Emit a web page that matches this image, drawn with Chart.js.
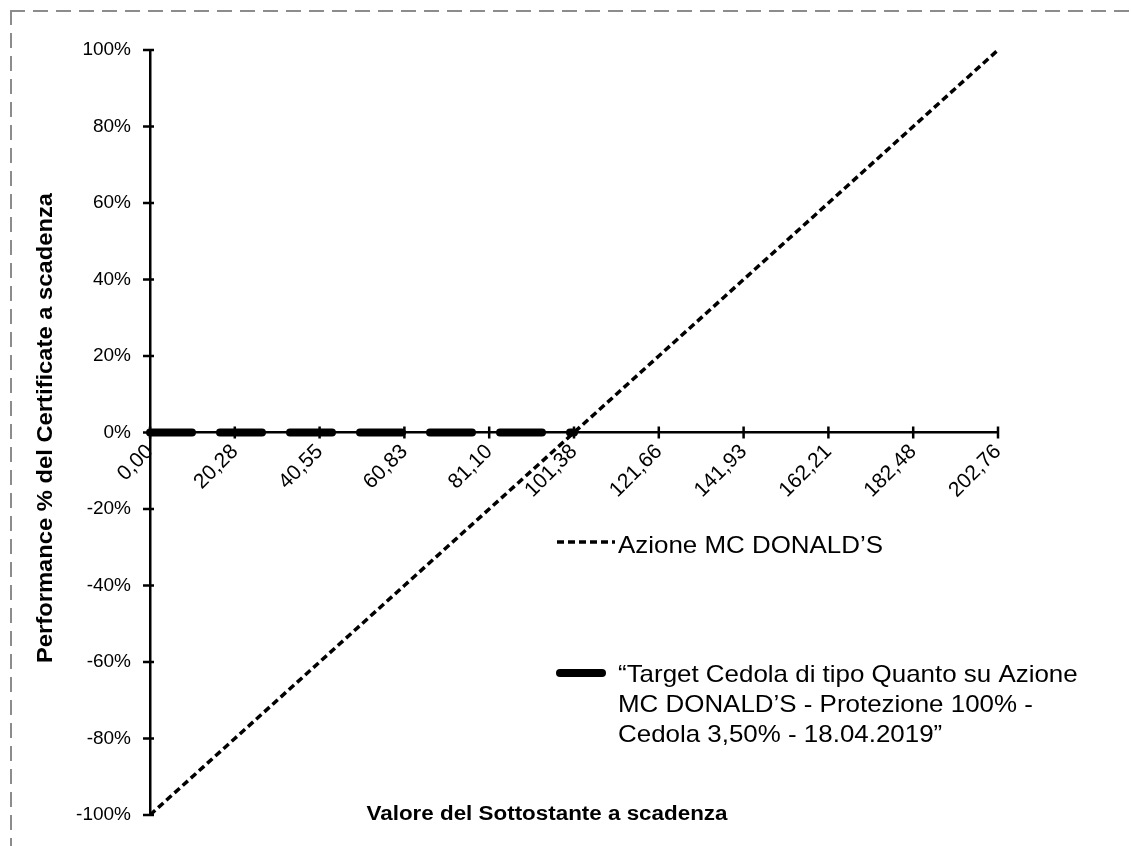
<!DOCTYPE html>
<html>
<head>
<meta charset="utf-8">
<script src="https://cdn.jsdelivr.net/npm/chart.js@4.4.1/dist/chart.umd.min.js"></script>
<style>
  html, body { margin: 0; padding: 0; background: #fff; overflow: hidden; }
  #wrap { position: relative; width: 1131px; height: 846px; }
  #frameTop { position: absolute; left: 10px; top: 10px; width: 1121px; height: 2px;
              background: repeating-linear-gradient(to right, #8c8c8c 0 15px, transparent 15px 23px); }
  #frameLeft { position: absolute; left: 10px; top: 10px; width: 2px; height: 836px;
               background: repeating-linear-gradient(to bottom, #8c8c8c 0 15px, transparent 15px 23px); }
  canvas { position: absolute; left: 0; top: 0; }
</style>
</head>
<body>
<div id="wrap">
  <div id="frameTop"></div>
  <div id="frameLeft"></div>
  <canvas id="chart" width="1131" height="846"></canvas>
</div>
<script>
// valori del sottostante (asse x)
const valori = ['0,00', '20,28', '40,55', '60,83', '81,10', '101,38', '121,66', '141,93', '162,21', '182,48', '202,76'];
// performance % azione
const azione = [-100, -80, -60, -40, -20, 0, 20, 40, 60, 80, 100];
// performance % certificate
const certificato = [0, 0, 0, 0, 0, 0, null, null, null, null, null];

const labelAzione = ['Azione MC DONALD\u2019S'];
const labelCertificato = [
    '\u201CTarget Cedola di tipo Quanto su Azione',
    'MC DONALD\u2019S - Protezione 100% -',
    'Cedola 3,50% - 18.04.2019\u201D'
];
const titoloX = 'Valore del Sottostante a scadenza';
const titoloY = 'Performance % del Certificate a scadenza';

const FONT = '"Liberation Sans", Arial, sans-serif';

// tick incrociati, titoli e legenda
const extras = {
    id: 'extras',
    afterDraw(chart) {
        const ctx = chart.ctx;
        const xs = chart.scales.x;
        const ys = chart.scales.y;
        const y0 = ys.getPixelForValue(0);

        ctx.save();
        ctx.strokeStyle = '#000';
        ctx.lineWidth = 2.5;
        ctx.beginPath();
        xs.ticks.forEach((t, i) => {
            const x = xs.getPixelForTick(i);
            ctx.moveTo(x, y0 - 6);
            ctx.lineTo(x, y0 + 6);
        });
        ys.ticks.forEach((t, i) => {
            const y = ys.getPixelForTick(i);
            ctx.moveTo(ys.right - 7, y);
            ctx.lineTo(ys.right + 4, y);
        });
        ctx.stroke();

        ctx.fillStyle = '#000';

        // titolo asse x
        ctx.save();
        ctx.font = 'bold 20px ' + FONT;
        ctx.textAlign = 'center';
        ctx.textBaseline = 'alphabetic';
        ctx.translate(547, 820);
        ctx.scale(1.12, 1);
        ctx.fillText(titoloX, 0, 0);
        ctx.restore();

        // titolo asse y
        ctx.save();
        ctx.font = 'bold 22px ' + FONT;
        ctx.textAlign = 'center';
        ctx.textBaseline = 'middle';
        ctx.translate(46, 428);
        ctx.rotate(-Math.PI / 2);
        ctx.scale(1.08, 1);
        ctx.fillText(titoloY, 0, 0);
        ctx.restore();

        // legenda
        const items = [
            { ds: chart.data.datasets[0], lines: labelAzione, x1: 557, x2: 615, y: 542, base: 553 },
            { ds: chart.data.datasets[1], lines: labelCertificato, x1: 560, x2: 602, y: 673, base: 682 }
        ];
        items.forEach(it => {
            ctx.save();
            ctx.strokeStyle = it.ds.borderColor;
            ctx.lineWidth = it.ds.borderWidth;
            ctx.lineCap = it.ds.borderCapStyle || 'butt';
            ctx.setLineDash(it.ds.borderDash || []);
            ctx.beginPath();
            ctx.moveTo(it.x1, it.y);
            ctx.lineTo(it.x2, it.y);
            ctx.stroke();
            ctx.restore();

            ctx.font = '24px ' + FONT;
            ctx.textAlign = 'left';
            ctx.textBaseline = 'alphabetic';
            it.lines.forEach((line, k) => {
                ctx.save();
                ctx.translate(618, it.base + k * 30);
                ctx.scale(1.08, 1);
                ctx.fillText(line, 0, 0);
                ctx.restore();
            });
        });
        ctx.restore();
    }
};

new Chart(document.getElementById('chart').getContext('2d'), {
    type: 'line',
    data: {
        labels: valori,
        datasets: [{
            label: labelAzione.join(' '),
            data: azione,
            borderColor: '#000',
            borderWidth: 3.5,
            borderDash: [7, 4],
            pointRadius: 0,
            fill: false
        }, {
            label: labelCertificato.join(' '),
            data: certificato,
            borderColor: '#000',
            borderWidth: 8,
            borderDash: [42, 28],
            borderCapStyle: 'round',
            pointRadius: 0,
            spanGaps: false,
            fill: false
        }]
    },
    options: {
        responsive: false,
        animation: false,
        layout: { padding: { top: 50, right: 133, bottom: 31, left: 0 } },
        plugins: {
            legend: { display: false },
            tooltip: { enabled: false }
        },
        scales: {
            x: {
                type: 'category',
                position: { y: 0 },
                offset: false,
                grid: { display: false, drawTicks: false },
                border: { display: true, color: '#000', width: 2.5 },
                ticks: {
                    autoSkip: false,
                    maxRotation: 45,
                    minRotation: 45,
                    padding: 7,
                    color: '#000',
                    font: { family: FONT, size: 21 }
                }
            },
            y: {
                min: -100,
                max: 100,
                grid: { display: false, drawTicks: false },
                border: { display: true, color: '#000', width: 2.5 },
                ticks: {
                    stepSize: 20,
                    padding: 19,
                    color: '#000',
                    font: { family: FONT, size: 19 },
                    callback: v => v + '%'
                },
                afterFit(scale) { scale.width = 150; }
            }
        }
    },
    plugins: [extras]
});
</script>
</body>
</html>
